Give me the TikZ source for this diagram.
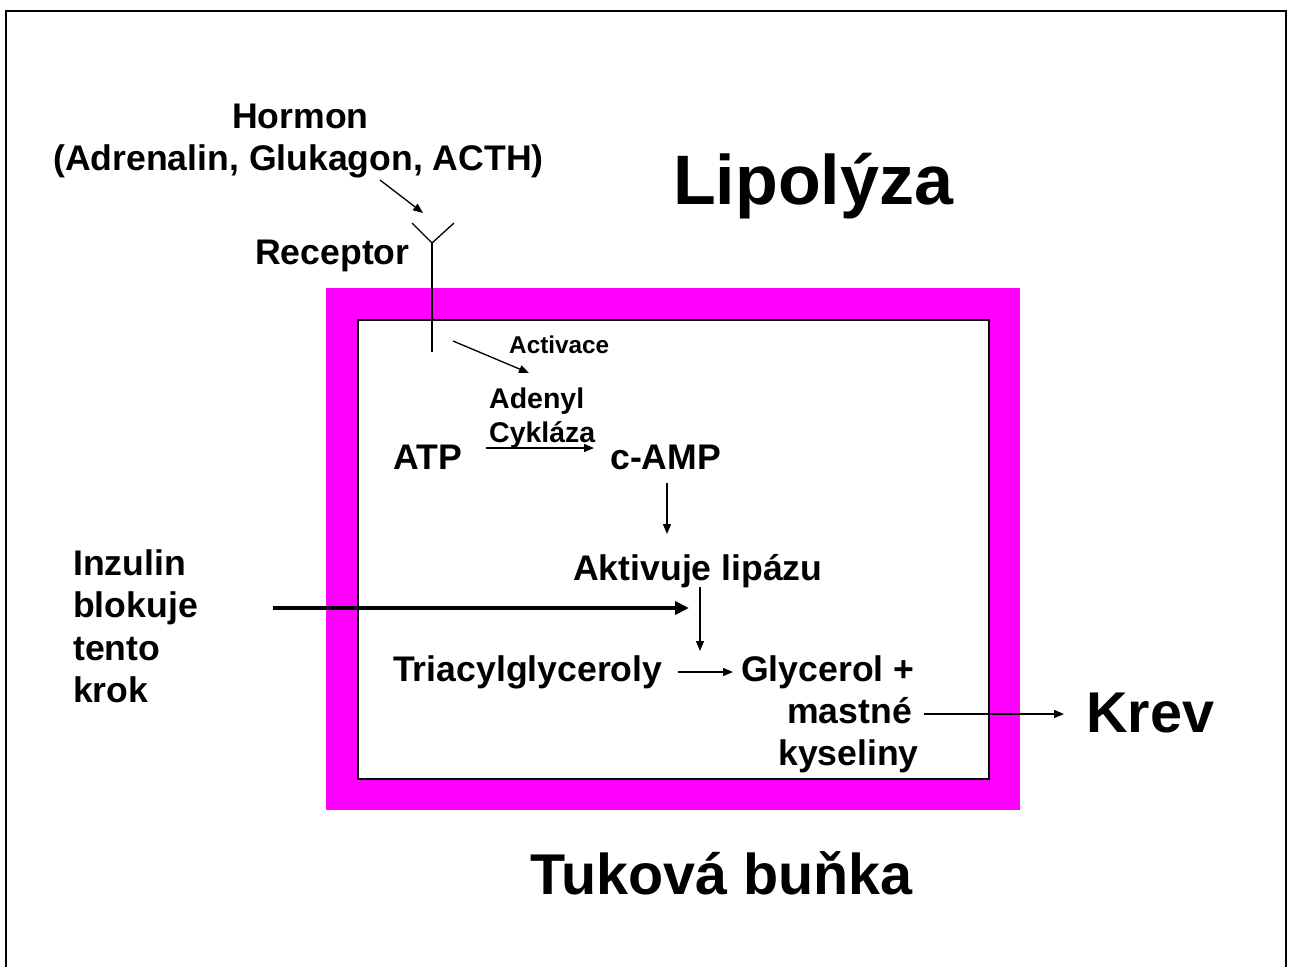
\documentclass[tikz,border=0pt]{standalone}
\usepackage{fontspec}
\setmainfont{Liberation Sans}
\usetikzlibrary{arrows.meta}
\definecolor{cellpink}{RGB}{255,0,255}
\begin{document}
\begin{tikzpicture}[x=1pt,y=-1pt,
  txt/.style={anchor=base west, inner sep=0pt, font=\bfseries\fontsize{35.6}{42}\selectfont},
  bigtxt/.style={anchor=base west, inner sep=0pt, font=\bfseries\fontsize{57.5}{68}\selectfont},
  hugetxt/.style={anchor=base west, inner sep=0pt, font=\bfseries\fontsize{70}{84}\selectfont},
  midtxt/.style={anchor=base west, inner sep=0pt, font=\bfseries\fontsize{28.5}{34}\selectfont},
  smalltxt/.style={anchor=base west, inner sep=0pt, font=\bfseries\fontsize{24.3}{29}\selectfont},
  thin/.style={line width=1.3pt},
  arr/.style={thin, -{Triangle[length=10pt,width=8pt]}},
  thickarr/.style={line width=4pt, -{Triangle[length=14pt,width=13pt]}}]
\useasboundingbox (0,0) rectangle (1289,967);
% outer frame (bottom edge outside the picture)
\draw[line width=2.6pt] (6,967) -- (6,11) -- (1286,11) -- (1286,967);
% cell
\fill[cellpink] (326,288) rectangle (1020,810);
\filldraw[fill=white, draw=black, thin] (358,320) rectangle (989,779);
% texts
\node[hugetxt] (lipo) at (673,204) {Lipolýza};
\node[bigtxt] (tuk) at (530,894) {Tuková buňka};
\node[bigtxt] (krev) at (1086,732) {Krev};
\node[txt] (hormon) at (232,128) {Hormon};
\node[txt] (adren) at (53,170) {(Adrenalin, Glukagon, ACTH)};
\node[txt] (recept) at (255,264) {Receptor};
\node[smalltxt] (activ) at (509,353) {Activace};
\node[midtxt] (adenyl) at (489,408) {Adenyl};
\node[midtxt] (cyklaza) at (489,442) {Cykláza};
\node[txt] (atp) at (393,469) {ATP};
\node[txt] (camp) at (610,469) {c-AMP};
\node[txt] (aktiv) at (573,580) {Aktivuje lipázu};
\node[txt] (inz1) at (73,575) {Inzulin};
\node[txt] (inz2) at (73,617) {blokuje};
\node[txt] (inz3) at (73,660) {tento};
\node[txt] (inz4) at (73,702) {krok};
\node[txt] (tag) at (393,681) {Triacylglyceroly};
\node[txt] (glyc) at (741,681) {Glycerol +};
\node[txt] (mast) at (787,723) {mastné};
\node[txt] (kys) at (778,765) {kyseliny};
% receptor
\coordinate (ra) at (412,223);
\coordinate (rb) at (454,223);
\coordinate (rj) at (432,243);
\coordinate (rs) at (432,352);
\draw[thin] (ra) -- (rj) -- (rb);
\draw[thin] (rj) -- (rs);
% connectors
\coordinate (h1) at (380,180);
\coordinate (h2) at (423,213);
\draw[arr] (h1) -- (h2);
\coordinate (a1) at (453,341);
\coordinate (a2) at (529,373);
\draw[arr] (a1) -- (a2);
\coordinate (c1) at (486,448);
\coordinate (c2) at (594,448);
\draw[arr] (c1) -- (c2);
\coordinate (m1) at (667,483);
\coordinate (m2) at (667,534);
\draw[arr] (m1) -- (m2);
\coordinate (l1) at (700,587);
\coordinate (l2) at (700,651);
\draw[arr] (l1) -- (l2);
\coordinate (t1) at (678,672);
\coordinate (t2) at (733,672);
\draw[arr] (t1) -- (t2);
\coordinate (k1) at (924,714);
\coordinate (k2) at (1064,714);
\draw[arr] (k1) -- (k2);
\coordinate (i1) at (273,608);
\coordinate (i2) at (689,608);
\draw[thickarr] (i1) -- (i2);
\end{tikzpicture}
\end{document}
